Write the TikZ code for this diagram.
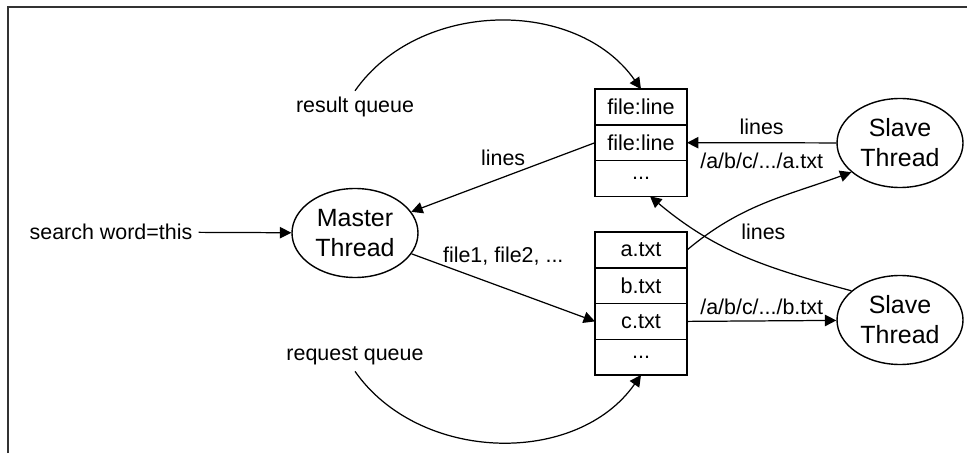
\documentclass[tikz,border=0pt]{standalone}
\usepackage{fontspec}
\setmainfont{Liberation Sans}
\usetikzlibrary{arrows.meta, positioning, shapes}

\begin{document}
\begin{tikzpicture}[
    thread/.style={ellipse, draw, line width=0.8pt, minimum width=2.52cm, minimum height=1.78cm,
        inner sep=0pt, align=center, font=\fontsize{14.2}{17}\selectfont},
    cell/.style={rectangle, draw, line width=0.8pt, minimum width=1.84cm, minimum height=0.714cm,
        inner sep=0pt, outer sep=0pt, font=\fontsize{12.3}{14}\selectfont},
    lbl/.style={font=\fontsize{12.2}{14}\selectfont},
    arr/.style={-{Triangle[length=6.5pt,width=6.5pt]}, line width=0.7pt}
]

\useasboundingbox (0,0) rectangle (19.34,9.06);

% Frame
\draw[line width=1.2pt, black!80] (0.16,0) -- (0.16,8.92) -- (19.34,8.92);

% Threads
\node[thread] (master) at (7.10,4.40) {Master\\Thread};
\node[thread] (slave1) at (18.00,6.20) {Slave\\Thread};
\node[thread] (slave2) at (18.00,2.66) {Slave\\Thread};

% Result queue
\node[cell] (fl1) at (12.82,6.92) {file:line};
\node[cell, below=0pt of fl1] (fl2) {file:line};
\node[cell, below=0pt of fl2] (dots1) {...};

% Request queue
\node[cell] (atxt) at (12.82,4.06) {a.txt};
\node[cell, below=0pt of atxt] (btxt) {b.txt};
\node[cell, below=0pt of btxt] (ctxt) {c.txt};
\node[cell, below=0pt of ctxt] (dots2) {...};

% Labels
\node[lbl] (input) at (2.22,4.42) {search word=this};
\node[lbl] (resq) at (7.10,6.92) {result queue};
\node[lbl] (reqq) at (7.10,1.94) {request queue};

% Connectors
\draw[arr] (input) -- (master);
\draw[arr] (fl2.west) -- (master) node[lbl, midway, above=3pt] {lines};
\draw[arr] (master) -- (ctxt.west) node[lbl, midway, above=9pt] {file1, file2, ...};
\draw[arr] (slave1) -- (fl2.east)
    node[lbl, midway, above=1pt] {lines}
    node[lbl, midway, below=2pt] {/a/b/c/.../a.txt};
\draw[arr] (ctxt.east) -- (slave2) node[lbl, midway, above] {/a/b/c/.../b.txt};
\draw[arr] (atxt.east) to[out=40, in=200] (slave1.211);
\draw[arr] (slave2.149) to[out=165, in=-40] node[lbl, pos=0.4, above=10pt] {lines} ([xshift=0.18cm]dots1.south);

% Queue loops
\draw[arr] (resq.north) to[out=55, in=125] (fl1.north);
\draw[arr] (reqq.south) to[out=-55, in=-125] (dots2.south);

\end{tikzpicture}
\end{document}
